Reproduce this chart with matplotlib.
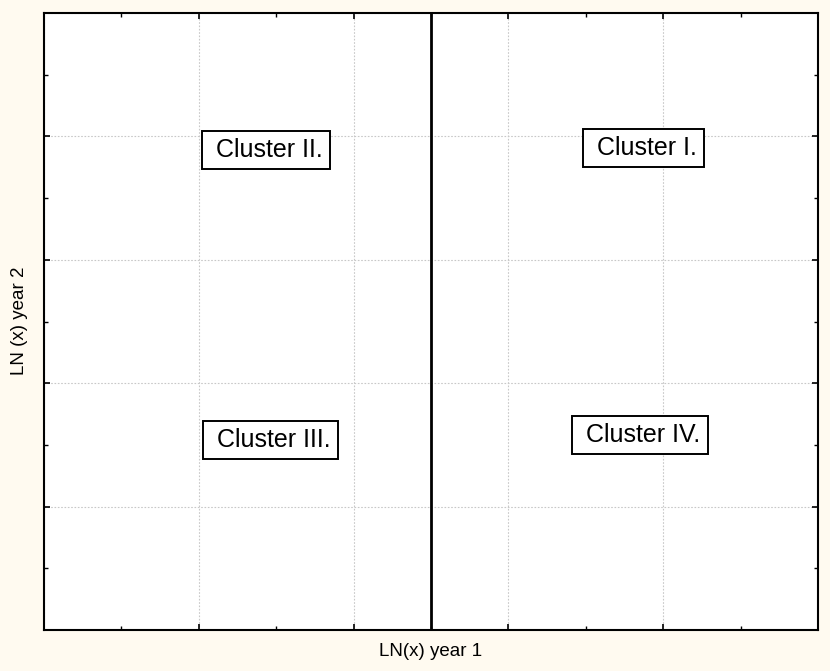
import matplotlib
matplotlib.use("Agg")
import matplotlib.pyplot as plt
from matplotlib.ticker import MultipleLocator

plt.rcParams['font.family'] = ['Liberation Sans', 'DejaVu Sans']

# label positions of the four clusters
cluster_names = ["Cluster I.", "Cluster II.", "Cluster III.", "Cluster IV."]
cluster_x = [7.74, 2.87, 2.93, 7.70]
cluster_y = [7.81, 7.78, 3.08, 3.16]

divider_x = 5.0
x_range = [0, 10]
y_range = [0, 10]

bg = '#FFFAF0'
fig = plt.figure(figsize=(8.3, 6.71), dpi=100, facecolor=bg)
ax = fig.add_axes([44 / 830, 1 - 630 / 671, 774 / 830, 617 / 671])
ax.set_facecolor('white')

ax.set_xlim(x_range)
ax.set_ylim(y_range)
ax.xaxis.set_major_locator(MultipleLocator(2))
ax.xaxis.set_minor_locator(MultipleLocator(1))
ax.yaxis.set_major_locator(MultipleLocator(2))
ax.yaxis.set_minor_locator(MultipleLocator(1))
ax.tick_params(which='major', direction='in', length=4, width=1.2,
               top=True, right=True, labelbottom=False, labelleft=False)
ax.tick_params(which='minor', direction='in', length=3, width=1,
               top=True, right=True)
ax.grid(True, which='major', color='#c8c8c8', linestyle=(0, (1.5, 1.5)), linewidth=0.8)
for s in ax.spines.values():
    s.set_linewidth(1.5)

ax.axvline(divider_x, color='black', linewidth=2)

# statistica-style boxes: a leading blank, tight on the right
for name, x, y in zip(cluster_names, cluster_x, cluster_y):
    ax.text(x, y, " " + name, ha='center', va='center', fontsize=18,
            bbox=dict(boxstyle='square,pad=0.28', facecolor='white',
                      edgecolor='black', linewidth=1.4))

fig.text(431 / 830, 1 - 652 / 671, "LN(x) year 1", ha='center', va='center', fontsize=13.5)
fig.text(20 / 830, 1 - 321 / 671, "LN (x) year 2", ha='center', va='center',
         rotation=90, fontsize=13.5)

fig.savefig("out.png", dpi=100, facecolor=bg)
